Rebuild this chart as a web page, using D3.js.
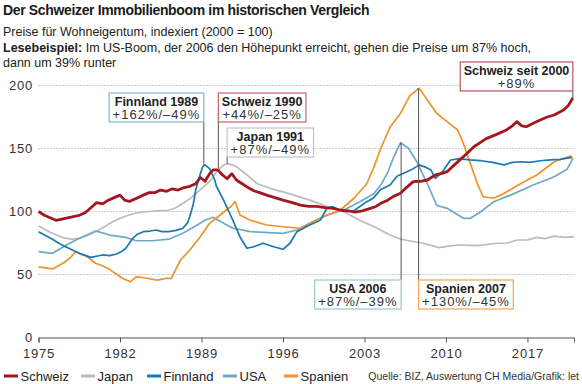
<!DOCTYPE html>
<html>
<head>
<meta charset="utf-8">
<script src="https://cdn.jsdelivr.net/npm/d3@7"></script>
<style>
  body { margin: 0; background: #fff; }
  svg { display: block; font-family: "Liberation Sans", Arial, sans-serif; }
</style>
</head>
<body>
<svg width="582" height="384"></svg>
<script>
// Werte: [Jahr, Index 2000 = 100]
var schweiz = [[1975,100],[1975.5,97],[1976,95],[1976.5,93],[1977,94],[1977.5,95],[1978,96],[1978.5,97],[1979,99],[1979.5,103],[1980,107],[1980.5,106],[1981,109],[1981.5,111],[1982,113],[1982.4,109],[1982.8,108],[1983.3,110],[1984,113],[1984.5,115],[1985,115],[1985.5,117],[1986,116],[1986.5,118],[1987,117],[1987.5,119],[1988,120],[1988.5,122],[1988.9,127],[1989.3,124],[1989.7,130],[1990,133],[1990.4,133],[1990.8,129],[1991.2,126],[1991.6,130],[1992,125],[1992.5,122],[1993,119],[1993.5,116.5],[1994,115],[1994.6,113],[1995.3,111],[1996,109],[1996.8,107],[1997.5,105],[1998.2,104],[1998.9,104],[1999.6,103],[2000.3,102.5],[2001,101],[2001.6,100.5],[2002.2,99.5],[2002.8,100.5],[2003.5,102.5],[2004,104],[2004.4,106.5],[2005,109],[2005.5,112],[2006.1,114.5],[2006.6,119],[2007.2,123.7],[2007.8,124],[2008.4,125],[2009.1,129],[2009.6,130],[2010.1,131.6],[2010.6,136],[2011.2,141],[2011.8,146],[2012.4,151.4],[2013,155],[2013.5,158],[2014.3,161],[2015.2,164.7],[2015.7,168],[2016.1,171.3],[2016.5,168],[2016.9,167.3],[2017.5,170],[2018.1,172.6],[2018.7,175],[2019.3,176.6],[2020.1,180.6],[2020.5,184],[2020.9,190]];

var japan = [[1975,88.5],[1976,83.5],[1977,79.5],[1977.8,78],[1978.5,78.7],[1979.2,81],[1979.9,84],[1980.7,88],[1981.4,92],[1982.1,95],[1982.8,97.2],[1983.5,99],[1984.2,99.8],[1985.2,100.5],[1986.2,101],[1986.8,103],[1987.4,106.5],[1988,110],[1988.5,114],[1989.1,119],[1989.7,123.7],[1990.3,131.6],[1990.9,137],[1991.3,138],[1992,135.6],[1992.9,129],[1993.8,122],[1994.9,118.4],[1996.6,114],[1998.3,109],[2000.1,103],[2001.2,99.8],[2002.6,93],[2004.1,86.7],[2005.2,81.3],[2006.1,78],[2007.8,75.2],[2009,72.5],[2009.4,71.3],[2010.2,72.5],[2011,73.4],[2012.7,72.9],[2014.4,74.8],[2015.3,75],[2016.1,77.4],[2017,77.5],[2017.8,79.5],[2018.5,78.5],[2019.3,80.5],[2020.2,79.5],[2021,80]];

var finnland = [[1975,84],[1975.6,81],[1976.2,78],[1976.9,74],[1977.6,70.8],[1978.5,66.8],[1979.5,63.6],[1980.5,65.5],[1981.1,65],[1981.7,66.3],[1982.1,68],[1982.5,70.8],[1983.1,78.7],[1983.5,82],[1984,84],[1984.6,84.5],[1985.1,85.3],[1985.6,84],[1986.2,84],[1986.8,85],[1987.4,86.7],[1987.8,91],[1988,96],[1988.3,106],[1988.5,117],[1988.8,127],[1989.1,135.6],[1989.3,137],[1989.7,134],[1990.1,126],[1990.3,119.7],[1990.9,109],[1991.3,101],[1991.7,93],[1992.3,80],[1992.9,70.8],[1993.5,72],[1994.3,74.8],[1995.2,72],[1996,70],[1996.6,74.8],[1997.2,84],[1997.8,87],[1998.3,89.3],[1999.2,93],[1999.8,103],[2000.3,103.8],[2000.9,101],[2001.5,100],[2002.1,100.6],[2003.2,107.8],[2003.8,111],[2004.4,117.5],[2005.2,121],[2005.8,128],[2006.5,131],[2007.2,134],[2007.7,137],[2008.3,135],[2008.7,133],[2009.1,126.3],[2009.7,131.6],[2010.4,140.9],[2011.2,142],[2012,141],[2013,140.3],[2014,139],[2015,137],[2015.7,139],[2016.4,139.5],[2017.2,139],[2018.1,140.3],[2019,141],[2019.8,141.4],[2020.8,143]];

var usa = [[1975,68.1],[1976.2,66.8],[1977.4,73.4],[1978.5,78.7],[1979.2,81.5],[1979.9,84.5],[1980.5,83],[1981.1,81.3],[1982.5,79.5],[1983.4,76.8],[1984.8,76.8],[1986.2,78],[1987.4,82.7],[1988.5,88.5],[1989.3,93],[1990,95.4],[1990.9,90.6],[1991.7,86.7],[1993.2,84],[1996,82.7],[1997.2,85.3],[1998.6,92],[1999.8,97.2],[2001.2,101],[2002.6,107.8],[2003.8,114],[2004.4,121],[2005,131],[2005.5,143],[2006.1,154.6],[2006.5,152],[2006.8,150],[2007.5,139.5],[2008.4,122],[2009.2,105],[2010.1,102.5],[2011.5,94.6],[2012.1,94.6],[2013,99.8],[2014.1,107.8],[2015.8,114],[2017.5,121],[2019.3,127.6],[2020.4,133.5],[2020.9,142]];

var spanien = [[1975,56],[1976.2,54.4],[1977.1,58.9],[1977.7,63],[1978.2,68.1],[1978.7,66],[1979.1,64.7],[1979.9,58.9],[1980.5,57],[1981.1,54.1],[1982.2,47],[1982.9,44.3],[1983.4,48.3],[1984.3,47],[1985.2,45.6],[1986,47],[1986.4,47],[1987.2,61.5],[1988,69.4],[1988.9,80],[1989.7,90.6],[1990.6,97.2],[1991.5,103.8],[1991.9,107.8],[1992.3,97.2],[1993.2,93],[1994.6,89.3],[1996,87.9],[1997.5,86.7],[1998.6,92],[1999.8,97.2],[2000.9,101],[2002.1,110.5],[2003.2,122],[2003.8,135],[2004.4,150],[2005.2,167],[2006.1,178],[2006.9,192],[2007.7,197.8],[2008.4,188.5],[2009.2,178],[2010.1,171.3],[2011,164.7],[2011.5,154],[2012.1,138],[2012.7,122],[2013.2,111.7],[2014.1,110.5],[2015,114.4],[2016.4,122],[2017.8,129],[2019.3,139.5],[2020.7,144],[2020.9,142]];

var seriesNames = ["Japan", "USA", "Spanien", "Finnland", "Schweiz"];
var seriesData = [japan, usa, spanien, finnland, schweiz];
var seriesColors = ["#bcbcbc", "#6eaac5", "#f0922d", "#1a79b2", "#a3171f"];

var legendNames = ["Schweiz", "Japan", "Finnland", "USA", "Spanien"];
var xTicks = [1975, 1982, 1989, 1996, 2003, 2010, 2017];
var yTicks = [0, 50, 100, 150, 200];

// Annotationen: Titel, Werte, Jahr und Index des Gipfels
var annoTitles = ["Finnland 1989", "Schweiz 1990", "Japan 1991", "Schweiz seit 2000", "USA 2006", "Spanien 2007"];
var annoTexts = ["+162%/–49%", "+44%/–25%", "+87%/–49%", "+89%", "+87%/–39%", "+130%/–45%"];
var annoYears = [1989.2, 1990.45, 1991.2, 2020.9, 2006.15, 2007.65];
var annoPeaks = [137, 134, 138, 190, 154.6, 197.8];

var width = 582, height = 384;

var x = d3.scaleLinear().domain([1975, 2021]).range([38.5, 574]);
var y = d3.scaleLinear().domain([0, 200]).range([337.5, 85.5]);

var svg = d3.select("svg");

// Titel
svg.append("text")
    .attr("x", 3).attr("y", 15)
    .attr("font-weight", "bold")
    .style("font-size", "14px")
    .style("letter-spacing", "-0.35px")
    .attr("fill", "#1a1a1a")
    .text("Der Schweizer Immobilienboom im historischen Vergleich");

svg.append("text")
    .attr("x", 3).attr("y", 35.5)
    .style("font-size", "12.5px")
    .attr("fill", "#222")
    .text("Preise für Wohneigentum, indexiert (2000 = 100)");

var t2 = svg.append("text")
    .attr("x", 3).attr("y", 51.5)
    .style("font-size", "12.5px")
    .attr("fill", "#222");
t2.append("tspan").attr("font-weight", "bold").text("Lesebeispiel:");
t2.append("tspan").text(" Im US-Boom, der 2006 den Höhepunkt erreicht, gehen die Preise um 87% hoch,");

svg.append("text")
    .attr("x", 3).attr("y", 67)
    .style("font-size", "12.5px")
    .attr("fill", "#222")
    .text("dann um 39% runter");

// Gitterlinien
svg.append("g")
    .selectAll("line")
    .data(yTicks.filter(function(d) { return d > 0; }))
    .enter().append("line")
    .attr("x1", x(1975)).attr("x2", x(2021))
    .attr("y1", function(d) { return y(d); })
    .attr("y2", function(d) { return y(d); })
    .attr("stroke", "#9a9a9a")
    .attr("stroke-width", 1)
    .attr("stroke-dasharray", "1,2");

// y-Beschriftung
svg.append("g")
    .selectAll("text")
    .data(yTicks)
    .enter().append("text")
    .attr("x", 33)
    .attr("y", function(d) { return y(d); })
    .attr("dy", "0.35em")
    .attr("text-anchor", "end")
    .style("font-size", "13px")
    .style("letter-spacing", "0.8px")
    .attr("fill", "#333")
    .text(function(d) { return d; });

// x-Achse
var xAxis = svg.append("g")
    .attr("transform", "translate(0," + y(0) + ")")
    .call(d3.axisBottom(x).tickValues(xTicks).tickSize(5).tickFormat(d3.format("d")));
xAxis.select(".domain").attr("stroke", "#555");
xAxis.selectAll(".tick line").attr("stroke", "#555");
xAxis.selectAll(".tick text")
    .attr("y", 11)
    .style("font-size", "13px")
    .style("letter-spacing", "0.8px")
    .style("font-family", "Liberation Sans, Arial, sans-serif")
    .attr("fill", "#333");

// Linien
var line = d3.line()
    .x(function(d) { return x(d[0]); })
    .y(function(d) { return y(d[1]); });

svg.append("g")
    .selectAll("path")
    .data(seriesData)
    .enter().append("path")
    .attr("d", line)
    .attr("fill", "none")
    .attr("stroke", function(d, i) { return seriesColors[i]; })
    .attr("stroke-width", function(d, i) { return seriesNames[i] == "Schweiz" ? 2.8 : 1.7; })
    .attr("stroke-linejoin", "round");

// Annotationen
var boxTop = [93, 93, 128, 62, 280, 280];
var lineSide = ["right", "left", "left", "right", "right", "left"];
var boxColors = ["#7fb7cf", "#c0646a", "#c4c4c4", "#b9565c", "#9cc6d8", "#f3a552"];

var annoG = svg.append("g");
annoTitles.forEach(function(title, i) {
    var lx = x(annoYears[i]);
    var py = y(annoPeaks[i]);
    var g = annoG.append("g");
    var t1 = g.append("text")
        .attr("font-weight", "bold")
        .style("font-size", "12.5px")
        .attr("fill", "#222")
        .attr("text-anchor", "middle")
        .text(title);
    var tt = g.append("text")
        .style("font-size", "13px")
        .style("letter-spacing", "1px")
        .attr("fill", "#333")
        .attr("text-anchor", "middle")
        .text(annoTexts[i]);
    var w = Math.max(t1.node().getComputedTextLength(), tt.node().getComputedTextLength()) + 7;
    var bx = lineSide[i] == "right" ? lx - w : lx;
    var by = boxTop[i];
    var bh = 29;
    // Verbindungslinie
    var ly1 = by > py ? py : by + bh;
    var ly2 = by > py ? by : py;
    g.insert("line", "text")
        .attr("x1", lx).attr("x2", lx)
        .attr("y1", ly1).attr("y2", ly2)
        .attr("stroke", "#555")
        .attr("stroke-width", 1);
    g.insert("rect", "text")
        .attr("x", bx).attr("y", by)
        .attr("width", w).attr("height", bh)
        .attr("fill", "#fff")
        .attr("stroke", boxColors[i])
        .attr("stroke-width", 1.2);
    t1.attr("x", bx + w / 2).attr("y", by + 12.5);
    tt.attr("x", bx + w / 2).attr("y", by + 26);
});

// Legende
var legendColor = d3.scaleOrdinal().domain(seriesNames).range(seriesColors);
var legendX = [4, 81, 147, 223, 284];
var lg = svg.append("g").attr("transform", "translate(0,376)");
var li = lg.selectAll("g")
    .data(legendNames)
    .enter().append("g")
    .attr("transform", function(d, i) { return "translate(" + legendX[i] + ",0)"; });
li.append("line")
    .attr("x1", 0).attr("x2", 14)
    .attr("stroke", function(d) { return legendColor(d); })
    .attr("stroke-width", 3);
li.append("text")
    .attr("x", 16.5)
    .attr("dy", "0.35em")
    .style("font-size", "13px")
    .attr("fill", "#222")
    .text(function(d) { return d; });

svg.append("text")
    .attr("x", 579).attr("y", 376)
    .attr("dy", "0.35em")
    .attr("text-anchor", "end")
    .style("font-size", "10.5px")
    .attr("fill", "#333")
    .text("Quelle: BIZ, Auswertung CH Media/Grafik: let");
</script>
</body>
</html>
